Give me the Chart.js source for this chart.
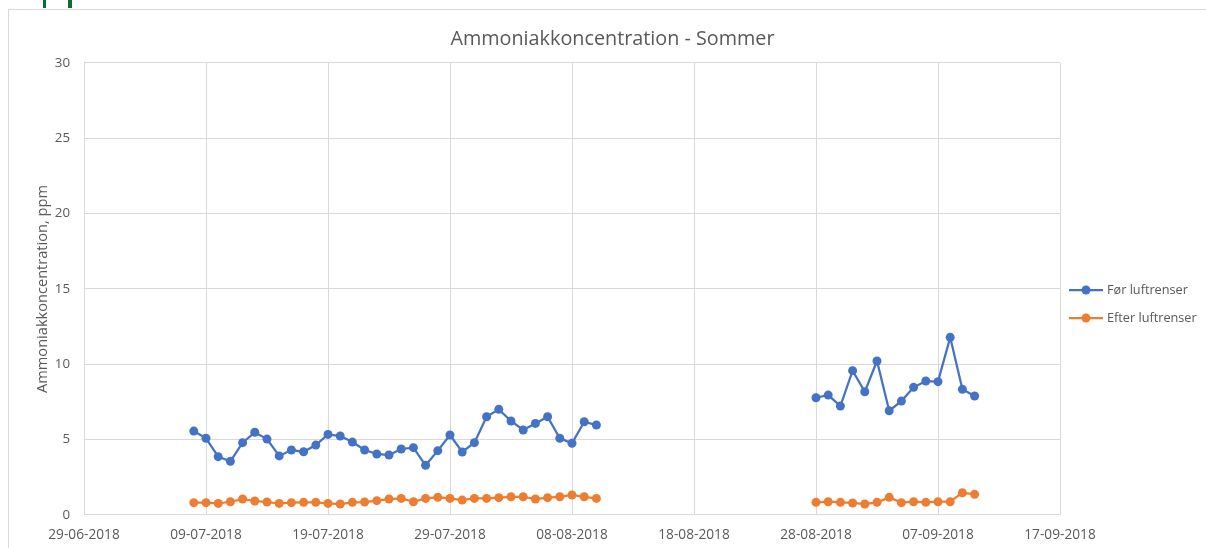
<!DOCTYPE html>
<html>
<head>
<meta charset="utf-8">
<script src="https://cdn.jsdelivr.net/npm/chart.js@4.4.1/dist/chart.umd.min.js"></script>
<style>
  html, body { margin: 0; padding: 0; background: #fff; overflow: hidden; width: 1206px; height: 548px; }
  #frame { position: absolute; left: 8px; top: 9px; width: 1207px; height: 560px; border: 1px solid #d9d9d9; }
  #c { display: block; }
  .mark { position: absolute; top: 0; width: 3px; height: 8px; background: #0f6b35; }
</style>
</head>
<body>
<div class="mark" style="left:43px"></div>
<div class="mark" style="left:68px;width:4px"></div>
<div id="frame"><canvas id="c" width="1207" height="560"></canvas></div>
<script>
const title = 'Ammoniakkoncentration - Sommer';
const yTitle = 'Ammoniakkoncentration, ppm';
const seriesNames = ['Før luftrenser', 'Efter luftrenser'];
const xRange = ['29-06-2018', '17-09-2018'];
const yTicks = [0, 5, 10, 15, 20, 25, 30];

const dates1 = ['08-07-2018','09-07-2018','10-07-2018','11-07-2018','12-07-2018','13-07-2018','14-07-2018','15-07-2018','16-07-2018','17-07-2018',
  '18-07-2018','19-07-2018','20-07-2018','21-07-2018','22-07-2018','23-07-2018','24-07-2018','25-07-2018','26-07-2018','27-07-2018',
  '28-07-2018','29-07-2018','30-07-2018','31-07-2018','01-08-2018','02-08-2018','03-08-2018','04-08-2018','05-08-2018','06-08-2018',
  '07-08-2018','08-08-2018','09-08-2018','10-08-2018'];
const before1 = [5.57,5.09,3.87,3.56,4.80,5.49,5.04,3.92,4.31,4.20,
  4.64,5.35,5.24,4.84,4.31,4.05,3.98,4.38,4.47,3.30,
  4.27,5.31,4.18,4.80,6.52,7.01,6.24,5.64,6.08,6.52,
  5.09,4.76,6.19,5.97];
const after1 = [0.82,0.82,0.77,0.88,1.06,0.93,0.86,0.77,0.82,0.84,
  0.84,0.77,0.73,0.84,0.86,0.95,1.06,1.10,0.88,1.10,
  1.17,1.10,0.99,1.10,1.10,1.15,1.21,1.21,1.06,1.15,
  1.21,1.33,1.21,1.10];

const dates2 = ['28-08-2018','29-08-2018','30-08-2018','31-08-2018','01-09-2018','02-09-2018','03-09-2018','04-09-2018','05-09-2018','06-09-2018',
  '07-09-2018','08-09-2018','09-09-2018','10-09-2018'];
const before2 = [7.78,7.96,7.23,9.58,8.18,10.22,6.92,7.56,8.47,8.89,8.85,11.79,8.34,7.90];
const after2 = [0.84,0.88,0.84,0.80,0.73,0.84,1.17,0.82,0.88,0.84,0.88,0.88,1.48,1.37];

const colors = ['#4472C4', '#ED7D31'];

// Excel-style serial day numbers (multiples of 10 match tick positions)
function serial(s) {
  const [d, m, y] = s.split('-').map(Number);
  return Date.UTC(y, m - 1, d) / 86400000 + 25569;
}
function fmt(v) {
  const dt = new Date((v - 25569) * 86400000);
  const p = n => String(n).padStart(2, '0');
  return p(dt.getUTCDate()) + '-' + p(dt.getUTCMonth() + 1) + '-' + dt.getUTCFullYear();
}
function build(d1, v1, d2, v2) {
  const pts = d1.map((d, i) => ({ x: serial(d), y: v1[i] }));
  pts.push({ x: (serial(d1[d1.length - 1]) + serial(d2[0])) / 2, y: null });
  d2.forEach((d, i) => pts.push({ x: serial(d), y: v2[i] }));
  return pts;
}

const FONT = '"Open Sans", Lato, sans-serif';
const TXT = '#595959';
const GRID = '#d9d9d9';

const legendPlugin = {
  id: 'sideLegend',
  afterDraw(chart) {
    const ctx = chart.ctx;
    const x0 = 1060, x1 = 1094, tx = 1098;
    const ys = [280, 308];
    ctx.save();
    seriesNames.forEach((name, i) => {
      const y = ys[i];
      ctx.strokeStyle = colors[i];
      ctx.lineWidth = 2.25;
      ctx.beginPath(); ctx.moveTo(x0, y); ctx.lineTo(x1, y); ctx.stroke();
      ctx.fillStyle = colors[i];
      ctx.beginPath(); ctx.arc((x0 + x1) / 2, y, 4.5, 0, Math.PI * 2); ctx.fill();
      ctx.fillStyle = TXT;
      ctx.font = '12.7px ' + FONT;
      ctx.textBaseline = 'middle';
      ctx.textAlign = 'left';
      ctx.fillText(name, tx, y);
    });
    ctx.restore();
  }
};

new Chart(document.getElementById('c'), {
  type: 'line',
  data: {
    datasets: [
      { label: seriesNames[0], data: build(dates1, before1, dates2, before2),
        borderColor: colors[0], backgroundColor: colors[0], pointBackgroundColor: colors[0], pointBorderColor: colors[0],
        borderWidth: 2.25, pointRadius: 4.5, pointBorderWidth: 0, spanGaps: false, tension: 0 },
      { label: seriesNames[1], data: build(dates1, after1, dates2, after2),
        borderColor: colors[1], backgroundColor: colors[1], pointBackgroundColor: colors[1], pointBorderColor: colors[1],
        borderWidth: 2.25, pointRadius: 4.5, pointBorderWidth: 0, spanGaps: false, tension: 0 }
    ]
  },
  options: {
    responsive: false,
    animation: false,
    events: [],
    layout: { padding: 0 },
    plugins: {
      legend: { display: false },
      tooltip: { enabled: false },
      title: { display: true, text: title, color: TXT, font: { family: FONT, size: 19.8, weight: 'normal' }, padding: { top: 17.5, bottom: 11.7 } }
    },
    scales: {
      x: {
        type: 'linear',
        min: serial(xRange[0]), max: serial(xRange[1]),
        afterFit(s) { s.height = 55; },
        grid: { color: GRID, lineWidth: 1, drawTicks: false },
        border: { color: GRID, width: 1 },
        ticks: { stepSize: 10, autoSkip: false, maxRotation: 0, padding: 12, color: TXT, font: { family: FONT, size: 13.7 }, callback: v => fmt(v) }
      },
      y: {
        min: yTicks[0], max: yTicks[yTicks.length - 1],
        afterFit(s) { s.width = 75; },
        grid: { color: GRID, lineWidth: 1, drawTicks: false },
        border: { display: false },
        ticks: { stepSize: 5, padding: 14, color: TXT, font: { family: FONT, size: 13.3 } },
        title: { display: true, text: yTitle, color: TXT, font: { family: FONT, size: 14.6 }, padding: { top: 25, bottom: 0 } }
      },
      legendSpace: {
        type: 'linear', position: 'right', display: true,
        afterFit(s) { s.width = 156; },
        grid: { display: false, drawTicks: false },
        border: { display: false },
        ticks: { display: false }
      }
    }
  },
  plugins: [legendPlugin]
});
</script>
</body>
</html>
